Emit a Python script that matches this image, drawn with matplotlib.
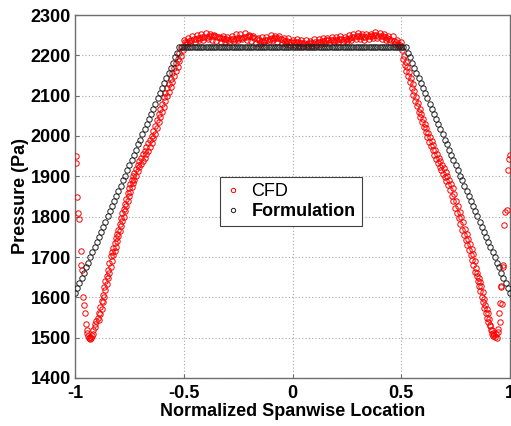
import numpy as np
import matplotlib
matplotlib.use("Agg")
import matplotlib.pyplot as plt

# ---------------- data ----------------
x_ticks = [-1, -0.5, 0, 0.5, 1]
x_tick_labels = ["-1", "-0.5", "0", "0.5", "1"]
y_ticks = [1400, 1500, 1600, 1700, 1800, 1900, 2000, 2100, 2200, 2300]

# Formulation: x grid -1..1 step 0.01
form_x = np.round(np.linspace(-1, 1, 201), 3)
form_left = [1610, 1623, 1635, 1648, 1661, 1674, 1686, 1699, 1712, 1724, 1737, 1750,
             1763, 1775, 1788, 1801, 1813, 1826, 1839, 1851, 1864, 1877, 1890, 1902,
             1915, 1928, 1940, 1953, 1966, 1979, 1991, 2004, 2017, 2029, 2042, 2055,
             2068, 2080, 2093, 2106, 2118, 2131, 2144, 2156, 2169, 2182, 2195, 2207, 2220]
form_flat = [2220] * 103
form_right = [2220, 2207, 2195, 2182, 2169, 2156, 2144, 2131, 2118, 2106, 2093, 2080,
              2068, 2055, 2042, 2029, 2017, 2004, 1991, 1979, 1966, 1953, 1940, 1928,
              1915, 1902, 1890, 1877, 1864, 1851, 1839, 1826, 1813, 1801, 1788, 1775,
              1763, 1750, 1737, 1724, 1712, 1699, 1686, 1674, 1661, 1648, 1635, 1623, 1610]
form_y = form_left + form_flat + form_right

# CFD: scattered points
cfd_tipL_x = [-0.997, -0.995, -0.989, -0.985, -0.983, -0.974, -0.971, -0.968, -0.962, -0.959,
              -0.955, -0.951, -0.947, -0.944, -0.940, -0.936, -0.932, -0.929, -0.926, -0.922,
              -0.919, -0.915, -0.910, -0.906, -0.902]
cfd_tipL_y = [1951, 1932, 1849, 1809, 1793, 1714, 1680, 1667, 1601, 1582,
              1561, 1535, 1520, 1512, 1505, 1500, 1496, 1502, 1498, 1504,
              1510, 1518, 1526, 1535, 1541]

cfd_LA_x = [-0.896, -0.890, -0.884, -0.878, -0.872, -0.866, -0.860, -0.854, -0.848, -0.842,
            -0.836, -0.830, -0.824, -0.818, -0.812, -0.806, -0.800, -0.794, -0.788, -0.782,
            -0.776, -0.770, -0.764, -0.758, -0.752, -0.746, -0.740, -0.734, -0.728, -0.720,
            -0.712, -0.704, -0.696, -0.688, -0.680, -0.672, -0.664, -0.656, -0.648, -0.640,
            -0.632, -0.624, -0.616, -0.608, -0.600, -0.592, -0.584, -0.576, -0.568, -0.560,
            -0.552, -0.544, -0.536, -0.528, -0.520, -0.512]
cfd_LA_y = [1548, 1562, 1575, 1590, 1605, 1625, 1640, 1652, 1668, 1684,
            1702, 1712, 1722, 1735, 1748, 1758, 1768, 1782, 1796, 1808,
            1820, 1832, 1845, 1858, 1870, 1880, 1892, 1900, 1908, 1918,
            1928, 1938, 1946, 1955, 1962, 1972, 1982, 1990, 2000, 2012,
            2026, 2040, 2054, 2068, 2080, 2096, 2106, 2118, 2130, 2142,
            2156, 2168, 2180, 2192, 2206, 2220]
cfd_LB_x = [-0.890, -0.884, -0.878, -0.872, -0.866, -0.860, -0.854, -0.848, -0.842, -0.836,
            -0.830, -0.824, -0.818, -0.812, -0.806, -0.800, -0.794, -0.788, -0.782, -0.776,
            -0.770, -0.764, -0.758, -0.752, -0.746, -0.740, -0.734, -0.728, -0.720, -0.712,
            -0.704, -0.696, -0.688, -0.680, -0.672, -0.664, -0.656, -0.648, -0.640, -0.632,
            -0.624, -0.616, -0.608, -0.600, -0.592, -0.584, -0.576, -0.568, -0.560, -0.552,
            -0.544, -0.536, -0.528, -0.520, -0.512, -0.504]
cfd_LB_y = [1545, 1558, 1572, 1588, 1600, 1618, 1632, 1648, 1660, 1676,
            1690, 1704, 1716, 1726, 1740, 1752, 1764, 1776, 1790, 1800,
            1814, 1826, 1838, 1852, 1862, 1874, 1884, 1892, 1902, 1912,
            1922, 1930, 1938, 1946, 1956, 1964, 1972, 1982, 1994, 2006,
            2020, 2034, 2046, 2060, 2072, 2086, 2098, 2110, 2122, 2134,
            2148, 2160, 2172, 2186, 2198, 2212]

cfd_midU_x = np.round(np.linspace(-0.50, 0.50, 51), 3)
cfd_midU_y = [2239, 2243, 2248, 2250, 2252, 2255, 2253, 2251, 2246, 2247,
              2246, 2249, 2252, 2252, 2255, 2251, 2248, 2242, 2245, 2246,
              2251, 2249, 2248, 2243, 2242, 2239, 2240, 2237, 2238, 2236,
              2240, 2240, 2244, 2243, 2246, 2245, 2247, 2246, 2251, 2252,
              2255, 2253, 2254, 2254, 2258, 2255, 2254, 2249, 2247, 2239, 2232]
cfd_midC_x = np.round(np.linspace(-0.495, 0.495, 100), 4)
cfd_midC_y = [2232, 2234, 2236, 2238, 2240, 2241, 2242, 2244, 2245, 2245,
              2246, 2247, 2247, 2248, 2247, 2245, 2244, 2242, 2241, 2240,
              2239, 2240, 2240, 2241, 2242, 2243, 2244, 2245, 2246, 2247,
              2247, 2246, 2244, 2241, 2238, 2236, 2236, 2238, 2239, 2241,
              2242, 2243, 2243, 2242, 2240, 2238, 2236, 2235, 2234, 2233,
              2233, 2232, 2232, 2231, 2230, 2230, 2229, 2230, 2230, 2231,
              2232, 2233, 2234, 2235, 2236, 2237, 2237, 2238, 2238, 2239,
              2239, 2240, 2240, 2239, 2240, 2241, 2243, 2245, 2246, 2247,
              2247, 2247, 2246, 2246, 2247, 2248, 2249, 2250, 2250, 2249,
              2248, 2247, 2245, 2243, 2241, 2238, 2235, 2232, 2229, 2226]
cfd_midL_x = np.round(np.linspace(-0.49, 0.49, 50), 3)
cfd_midL_y = [2227, 2231, 2234, 2237, 2239, 2241, 2239, 2235, 2233, 2232,
              2234, 2236, 2238, 2240, 2239, 2235, 2230, 2229, 2232, 2235,
              2237, 2234, 2231, 2228, 2226, 2225, 2224, 2223, 2223, 2224,
              2226, 2228, 2230, 2230, 2232, 2232, 2233, 2235, 2238, 2240,
              2241, 2239, 2240, 2243, 2243, 2240, 2237, 2233, 2228, 2222]

cfd_RA_x = [0.504, 0.512, 0.520, 0.528, 0.536, 0.544, 0.552, 0.560, 0.568, 0.576,
            0.584, 0.592, 0.600, 0.608, 0.616, 0.624, 0.632, 0.640, 0.648, 0.656,
            0.664, 0.672, 0.680, 0.688, 0.696, 0.704, 0.712, 0.720, 0.728, 0.736,
            0.744, 0.752, 0.760, 0.768, 0.776, 0.784, 0.792, 0.800, 0.808, 0.816,
            0.824, 0.832, 0.838, 0.844, 0.850, 0.856, 0.862, 0.868, 0.874, 0.880,
            0.886, 0.892, 0.898, 0.904, 0.910, 0.916, 0.922, 0.928]
cfd_RA_y = [2214, 2198, 2183, 2170, 2158, 2145, 2128, 2112, 2097, 2082,
            2068, 2054, 2042, 2030, 2020, 2008, 1998, 1987, 1977, 1966,
            1956, 1946, 1938, 1928, 1920, 1910, 1900, 1892, 1882, 1870,
            1856, 1840, 1826, 1812, 1800, 1786, 1770, 1756, 1744, 1733,
            1720, 1708, 1690, 1672, 1660, 1648, 1638, 1628, 1612, 1596,
            1582, 1572, 1562, 1546, 1532, 1520, 1512, 1506]
cfd_RB_x = [0.508, 0.516, 0.524, 0.532, 0.540, 0.548, 0.556, 0.564, 0.572, 0.580,
            0.588, 0.596, 0.604, 0.612, 0.620, 0.628, 0.636, 0.644, 0.652, 0.660,
            0.668, 0.676, 0.684, 0.692, 0.700, 0.708, 0.716, 0.724, 0.732, 0.740,
            0.748, 0.756, 0.764, 0.772, 0.780, 0.788, 0.796, 0.804, 0.812, 0.820,
            0.826, 0.832, 0.840, 0.846, 0.852, 0.858, 0.864, 0.870, 0.876, 0.882,
            0.888, 0.894, 0.900, 0.906, 0.912, 0.918, 0.924]
cfd_RB_y = [2190, 2176, 2162, 2148, 2134, 2118, 2102, 2088, 2074, 2060,
            2046, 2034, 2022, 2010, 1998, 1986, 1976, 1966, 1954, 1944,
            1934, 1924, 1916, 1906, 1898, 1888, 1878, 1866, 1852, 1838,
            1822, 1808, 1796, 1782, 1768, 1754, 1742, 1730, 1718, 1704,
            1692, 1680, 1664, 1652, 1640, 1628, 1616, 1602, 1588, 1574,
            1562, 1550, 1540, 1528, 1518, 1510, 1504]

cfd_tipR_x = [0.932, 0.936, 0.940, 0.943, 0.946, 0.949, 0.954, 0.955, 0.958, 0.962,
              0.960, 0.966, 0.968, 0.972, 0.977, 0.984, 0.993, 0.997, 0.999]
cfd_tipR_y = [1502, 1508, 1500, 1522, 1514, 1560, 1539, 1585, 1627, 1584,
              1626, 1675, 1680, 1779, 1812, 1816, 1915, 1944, 1952]

cfd_x = np.concatenate([cfd_tipL_x, cfd_LA_x, cfd_LB_x, cfd_midU_x, cfd_midC_x, cfd_midL_x,
                        cfd_RA_x, cfd_RB_x, cfd_tipR_x])
cfd_y = np.concatenate([cfd_tipL_y, cfd_LA_y, cfd_LB_y, cfd_midU_y, cfd_midC_y, cfd_midL_y,
                        cfd_RA_y, cfd_RB_y, cfd_tipR_y])

# ---------------- figure ----------------
plt.rcParams['font.family'] = ['Liberation Sans', 'DejaVu Sans']
plt.rcParams['axes.unicode_minus'] = False

fig = plt.figure(figsize=(5.11, 4.26), dpi=100)
ax = fig.add_axes([75 / 511, 1 - 378 / 426, 435 / 511, 363 / 426])

ax.plot(cfd_x, cfd_y, linestyle='none', marker='o', ms=3.9, mew=0.7,
        mfc='none', mec='#ff0000', label='CFD', zorder=3)
ax.plot(form_x, form_y, linestyle='none', marker='o', ms=3.9, mew=0.7,
        mfc='none', mec='#202020', label='Formulation', zorder=4)

ax.set_xlim(-1, 1)
ax.set_ylim(1400, 2300)
ax.set_xticks(x_ticks)
ax.set_xticklabels(x_tick_labels)
ax.set_yticks(y_ticks)

ax.grid(True, color='#a8a8a8', linestyle=(0, (1, 2)), linewidth=0.8)
ax.set_axisbelow(True)
for s in ax.spines.values():
    s.set_color('#6e6e6e')
    s.set_linewidth(1.0)
ax.tick_params(direction='in', length=3, color='#6e6e6e', labelsize=13,
               pad=3)
for lab in ax.get_xticklabels() + ax.get_yticklabels():
    lab.set_fontweight('bold')
ax.tick_params(axis='x', pad=5)

ax.set_xlabel('Normalized Spanwise Location', fontsize=13, fontweight='bold', labelpad=1)
ax.set_ylabel('Pressure (Pa)', fontsize=13, fontweight='bold', labelpad=1)

leg = ax.legend(loc='upper left', bbox_to_anchor=(0.333, 0.554), borderaxespad=0,
                fancybox=False, framealpha=1, edgecolor='#404040', fontsize=13,
                handlelength=0.8, handletextpad=0.6, labelspacing=0.15,
                borderpad=0.35, markerscale=0.8)
leg.get_frame().set_linewidth(0.8)
leg.get_texts()[1].set_fontweight('bold')

fig.savefig('out.png', dpi=100)
